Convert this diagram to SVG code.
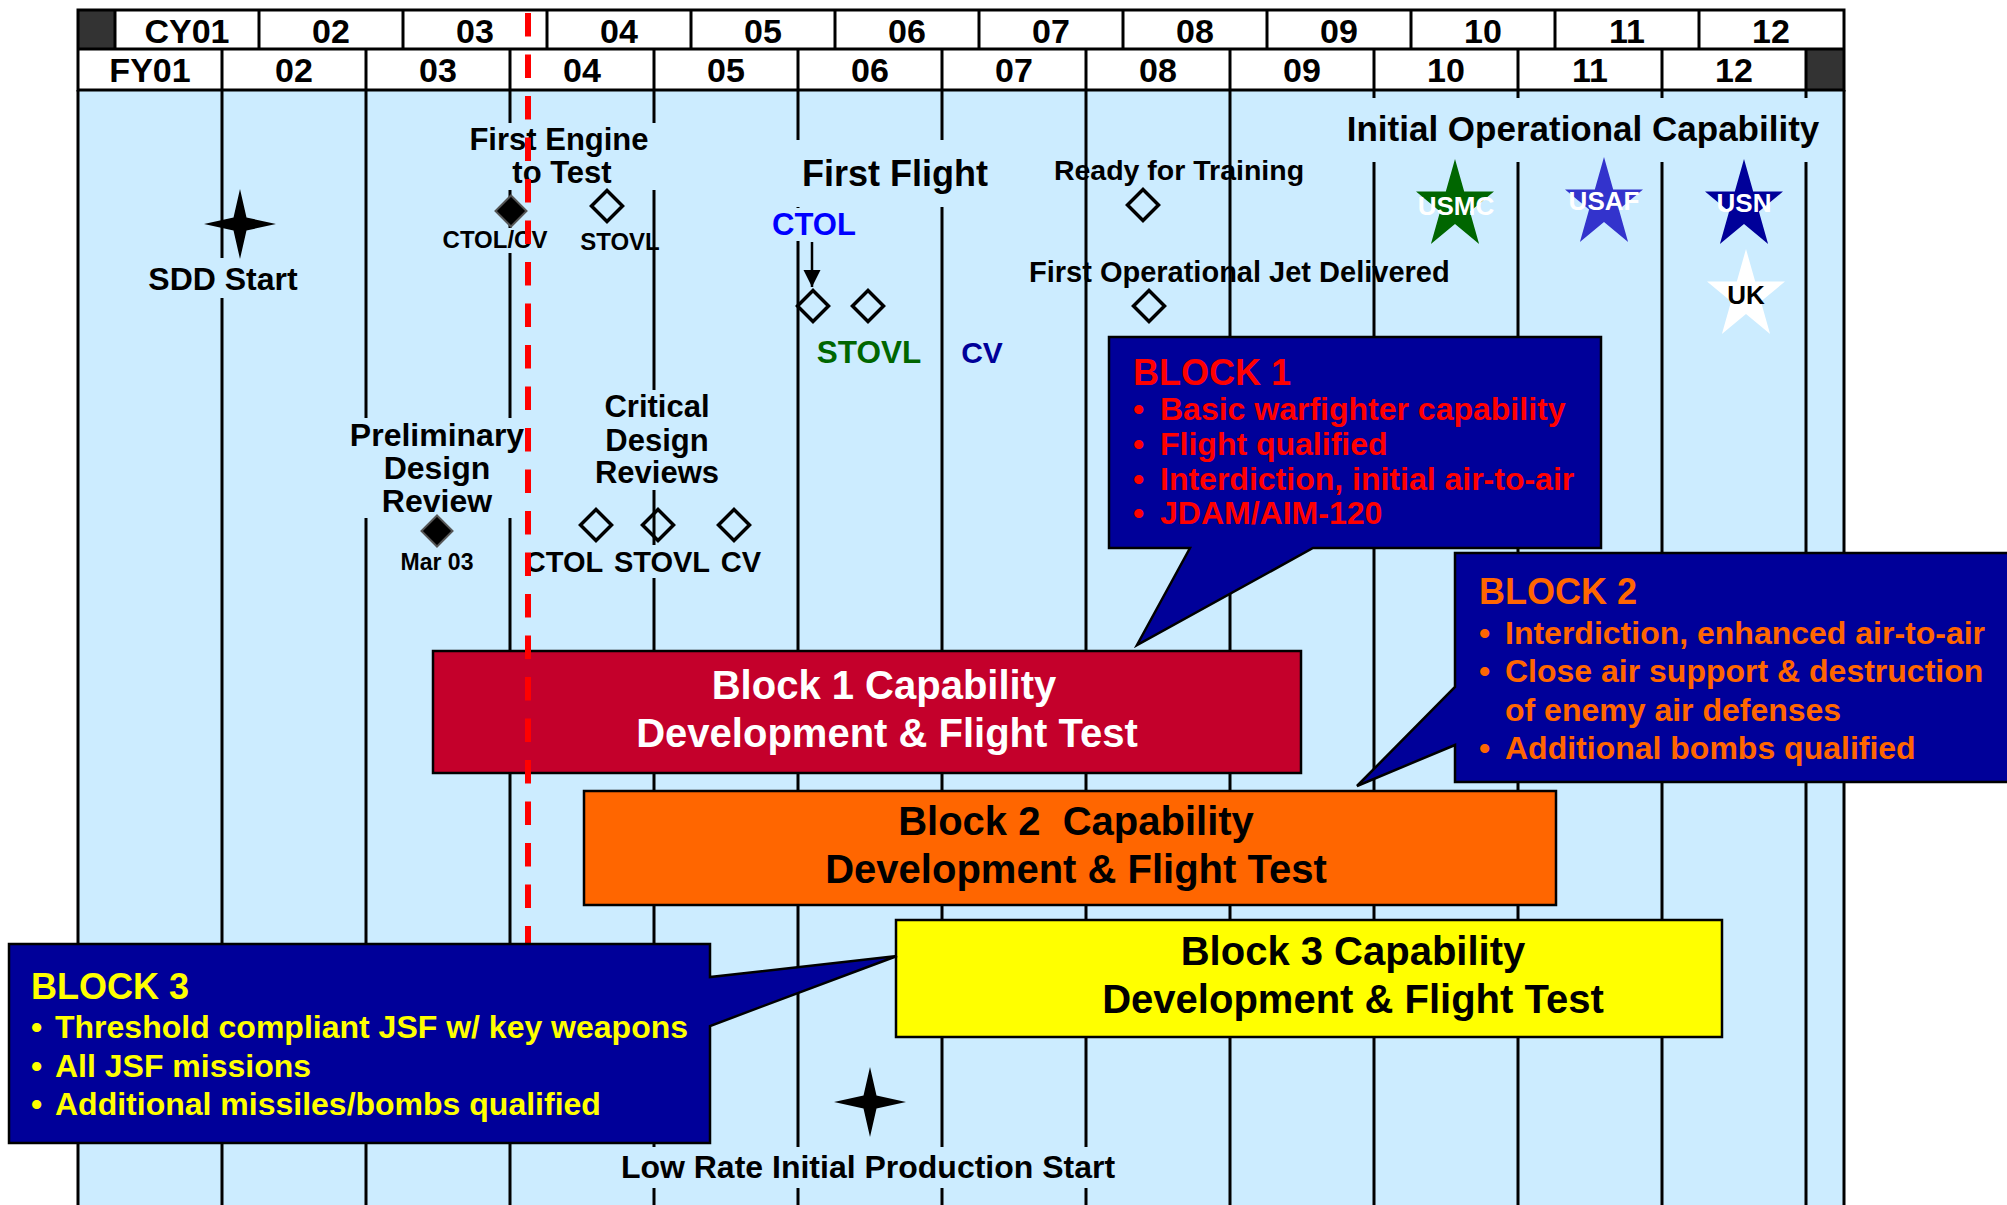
<svg xmlns="http://www.w3.org/2000/svg" width="2007" height="1205" viewBox="0 0 2007 1205">
<style>
.t{font-family:"Liberation Sans",Arial,sans-serif;font-weight:bold}
.m{text-anchor:middle}
.grid{stroke:#000;stroke-width:3}
.tb{fill:#CCECFF}
.od{fill:none;stroke:#000;stroke-width:3.5}
.fd{fill:#000;stroke:#555;stroke-width:2}
.bar{stroke:#000;stroke-width:2.5}
.call{fill:#000099;stroke:#000;stroke-width:2.5}
</style>
<defs>
<path id="dia" d="M0,-15.5 L15.5,0 L0,15.5 L-15.5,0 Z"/>
<path id="star4" d="M0,-35 L6.5,-6.5 L36,0 L6.5,6.5 L0,35 L-6.5,6.5 L-36,0 L-6.5,-6.5 Z"/>
<path id="star5" d="M0,-47 L9.2,-14.5 L39,-14.5 L14.9,5.5 L24.1,38 L0,18 L-24.1,38 L-14.9,5.5 L-39,-14.5 L-9.2,-14.5 Z"/>
<marker id="ah" viewBox="0 0 10 10" refX="10" refY="5" markerWidth="7" markerHeight="7" markerUnits="strokeWidth" orient="auto">
<path d="M0,0 L10,5 L0,10 Z" fill="#000"/>
</marker>
</defs>

<rect x="0" y="0" width="2007" height="1205" fill="#fff"/>
<rect x="78" y="90" width="1766" height="1115" fill="#CCECFF"/>

<g id="grid" class="grid">
<line x1="222" y1="90" x2="222" y2="1205"/>
<line x1="366" y1="90" x2="366" y2="1205"/>
<line x1="510" y1="90" x2="510" y2="1205"/>
<line x1="654" y1="90" x2="654" y2="1205"/>
<line x1="798" y1="90" x2="798" y2="1205"/>
<line x1="942" y1="90" x2="942" y2="1205"/>
<line x1="1086" y1="90" x2="1086" y2="1205"/>
<line x1="1230" y1="90" x2="1230" y2="1205"/>
<line x1="1374" y1="90" x2="1374" y2="1205"/>
<line x1="1518" y1="90" x2="1518" y2="1205"/>
<line x1="1662" y1="90" x2="1662" y2="1205"/>
<line x1="1806" y1="90" x2="1806" y2="1205"/>
<line x1="78" y1="90" x2="78" y2="1205"/>
<line x1="1844" y1="90" x2="1844" y2="1205"/>
</g>

<g id="sdd-start">
<rect class="tb" x="145" y="258" width="157" height="40"/>
<use href="#star4" x="240" y="224" fill="#000"/>
<text class="t m" x="223" y="290" font-size="32">SDD Start</text>
</g>

<g id="first-engine">
<rect class="tb" x="455" y="123" width="210" height="67"/>
<rect class="tb" x="440" y="228" width="110" height="25"/>
<text class="t m" x="559" y="150" font-size="31">First Engine</text>
<text class="t m" x="562" y="183" font-size="31">to Test</text>
<use href="#dia" x="511" y="211" class="fd"/>
<use href="#dia" x="607" y="206" class="od"/>
<text class="t m" x="495" y="248" font-size="24">CTOL/CV</text>
<text class="t m" x="620" y="250" font-size="24">STOVL</text>
</g>

<g id="pdr">
<rect class="tb" x="345" y="418" width="183" height="100"/>
<text class="t m" x="437" y="446" font-size="32">Preliminary</text>
<text class="t m" x="437" y="479" font-size="32">Design</text>
<text class="t m" x="437" y="512" font-size="32">Review</text>
<use href="#dia" x="437" y="531" class="fd"/>
<text class="t m" x="437" y="570" font-size="23">Mar 03</text>
</g>

<g id="cdr">
<rect class="tb" x="598" y="390" width="118" height="100"/>
<rect class="tb" x="522" y="545" width="245" height="33"/>
<text class="t m" x="657" y="417" font-size="31">Critical</text>
<text class="t m" x="657" y="451" font-size="31">Design</text>
<text class="t m" x="657" y="483" font-size="31">Reviews</text>
<use href="#dia" x="596" y="525" class="od"/>
<use href="#dia" x="658" y="525" class="od"/>
<use href="#dia" x="734" y="525" class="od"/>
<text class="t m" x="564" y="572" font-size="29">CTOL</text>
<text class="t m" x="662" y="572" font-size="29">STOVL</text>
<text class="t m" x="741" y="572" font-size="29">CV</text>
</g>

<g id="first-flight">
<rect class="tb" x="790" y="140" width="210" height="67"/>
<rect class="tb" x="768" y="208" width="94" height="33"/>
<text class="t m" x="895" y="186" font-size="36">First Flight</text>
<text class="t m" x="814" y="235" font-size="31" fill="#0000FF">CTOL</text>
<use href="#dia" x="813" y="306" class="od"/>
<use href="#dia" x="868" y="306" class="od"/>
<text class="t m" x="869" y="363" font-size="31.5" fill="#006600">STOVL</text>
<text class="t m" x="982" y="363" font-size="30" fill="#000099">CV</text>
</g>

<g id="ready-for-training">
<text class="t m" x="1179" y="180" font-size="28.5">Ready for Training</text>
<use href="#dia" x="1143" y="205" class="od"/>
</g>

<g id="first-jet">
<text class="t" x="1029" y="282" font-size="29">First Operational Jet Delivered</text>
<use href="#dia" x="1149" y="306" class="od"/>
</g>

<g id="ioc">
<rect class="tb" x="1340" y="98" width="486" height="64"/>
<text class="t m" x="1583" y="141" font-size="35">Initial Operational Capability</text>
<use href="#star5" x="1455" y="206" fill="#006600"/>
<text class="t m" x="1456" y="215" font-size="26" fill="#fff">USMC</text>
<use href="#star5" x="1604" y="204" fill="#3333CC"/>
<text class="t m" x="1604" y="210" font-size="26" fill="#fff">USAF</text>
<use href="#star5" x="1744" y="206" fill="#000099"/>
<text class="t m" x="1744" y="212" font-size="26" fill="#fff">USN</text>
<use href="#star5" x="1746" y="296" fill="#fff"/>
<text class="t m" x="1746" y="304" font-size="26">UK</text>
</g>

<g id="lrip">
<rect class="tb" x="612" y="1147" width="512" height="41"/>
<use href="#star4" x="870" y="1102" fill="#000"/>
<text class="t m" x="868" y="1178" font-size="32">Low Rate Initial Production Start</text>
</g>

<g id="connectors">
<line x1="812" y1="242" x2="812" y2="287" stroke="#000" stroke-width="2.5" marker-end="url(#ah)"/>
</g>

<g id="block1-bar">
<rect class="bar" x="433" y="651" width="868" height="122" fill="#C4002B"/>
<text class="t m" x="884" y="699" font-size="40" fill="#fff">Block 1 Capability</text>
<text class="t m" x="887" y="747" font-size="40" fill="#fff">Development &amp; Flight Test</text>
</g>

<g id="block2-bar">
<rect class="bar" x="584" y="791" width="972" height="114" fill="#FF6600"/>
<text class="t m" x="1076" y="835" font-size="40" xml:space="preserve">Block 2  Capability</text>
<text class="t m" x="1076" y="883" font-size="40">Development &amp; Flight Test</text>
</g>

<g id="block3-bar">
<rect class="bar" x="896" y="920" width="826" height="117" fill="#FFFF00"/>
<text class="t m" x="1353" y="965" font-size="40">Block 3 Capability</text>
<text class="t m" x="1353" y="1013" font-size="40">Development &amp; Flight Test</text>
</g>

<g id="header">
<rect x="78" y="10" width="1766" height="80" fill="#fff"/>
<rect x="78" y="10" width="37" height="39" fill="#333"/>
<rect x="1806" y="49" width="38" height="41" fill="#333"/>
<g class="grid">
<rect x="78" y="10" width="1766" height="80" fill="none"/>
<line x1="78" y1="49" x2="1844" y2="49"/>
<line x1="115" y1="10" x2="115" y2="49"/>
<line x1="259" y1="10" x2="259" y2="49"/>
<line x1="403" y1="10" x2="403" y2="49"/>
<line x1="547" y1="10" x2="547" y2="49"/>
<line x1="691" y1="10" x2="691" y2="49"/>
<line x1="835" y1="10" x2="835" y2="49"/>
<line x1="979" y1="10" x2="979" y2="49"/>
<line x1="1123" y1="10" x2="1123" y2="49"/>
<line x1="1267" y1="10" x2="1267" y2="49"/>
<line x1="1411" y1="10" x2="1411" y2="49"/>
<line x1="1555" y1="10" x2="1555" y2="49"/>
<line x1="1699" y1="10" x2="1699" y2="49"/>
<line x1="222" y1="49" x2="222" y2="90"/>
<line x1="366" y1="49" x2="366" y2="90"/>
<line x1="510" y1="49" x2="510" y2="90"/>
<line x1="654" y1="49" x2="654" y2="90"/>
<line x1="798" y1="49" x2="798" y2="90"/>
<line x1="942" y1="49" x2="942" y2="90"/>
<line x1="1086" y1="49" x2="1086" y2="90"/>
<line x1="1230" y1="49" x2="1230" y2="90"/>
<line x1="1374" y1="49" x2="1374" y2="90"/>
<line x1="1518" y1="49" x2="1518" y2="90"/>
<line x1="1662" y1="49" x2="1662" y2="90"/>
<line x1="1806" y1="49" x2="1806" y2="90"/>
</g>
<g class="t m" font-size="34">
<text x="187" y="43">CY01</text>
<text x="331" y="43">02</text>
<text x="475" y="43">03</text>
<text x="619" y="43">04</text>
<text x="763" y="43">05</text>
<text x="907" y="43">06</text>
<text x="1051" y="43">07</text>
<text x="1195" y="43">08</text>
<text x="1339" y="43">09</text>
<text x="1483" y="43">10</text>
<text x="1627" y="43">11</text>
<text x="1771" y="43">12</text>
<text x="150" y="82">FY01</text>
<text x="294" y="82">02</text>
<text x="438" y="82">03</text>
<text x="582" y="82">04</text>
<text x="726" y="82">05</text>
<text x="870" y="82">06</text>
<text x="1014" y="82">07</text>
<text x="1158" y="82">08</text>
<text x="1302" y="82">09</text>
<text x="1446" y="82">10</text>
<text x="1590" y="82">11</text>
<text x="1734" y="82">12</text>
</g>
</g>

<g id="today-line">
<line x1="528" y1="13" x2="528" y2="944" stroke="#FF0000" stroke-width="6" stroke-dasharray="23.5 18"/>
</g>

<g id="block1-callout">
<path class="call" d="M1109,337 H1601 V548 H1313 L1137,645 L1190,548 H1109 Z"/>
<g class="t" fill="#FF0000">
<text x="1133" y="385" font-size="36">BLOCK 1</text>
<g font-size="32">
<text x="1133" y="420">•</text><text x="1160" y="420">Basic warfighter capability</text>
<text x="1133" y="455">•</text><text x="1160" y="455">Flight qualified</text>
<text x="1133" y="490">•</text><text x="1160" y="490">Interdiction, initial air-to-air</text>
<text x="1133" y="524">•</text><text x="1160" y="524">JDAM/AIM-120</text>
</g>
</g>
</g>

<g id="block2-callout">
<path class="call" d="M1455,553 H2012 V782 H1455 V745 L1357,786 L1455,687 Z"/>
<g class="t" fill="#FF6600">
<text x="1479" y="604" font-size="36">BLOCK 2</text>
<g font-size="32">
<text x="1479" y="644">•</text><text x="1505" y="644">Interdiction, enhanced air-to-air</text>
<text x="1479" y="682">•</text><text x="1505" y="682">Close air support &amp; destruction</text>
<text x="1505" y="721">of enemy air defenses</text>
<text x="1479" y="759">•</text><text x="1505" y="759">Additional bombs qualified</text>
</g>
</g>
</g>

<g id="block3-callout">
<path class="call" d="M9,944 H710 V977 L897,956 L710,1026 V1143 H9 Z"/>
<g class="t" fill="#FFFF00">
<text x="31" y="999" font-size="36">BLOCK 3</text>
<g font-size="32">
<text x="31" y="1038">•</text><text x="55" y="1038">Threshold compliant JSF w/ key weapons</text>
<text x="31" y="1077">•</text><text x="55" y="1077">All JSF missions</text>
<text x="31" y="1115">•</text><text x="55" y="1115">Additional missiles/bombs qualified</text>
</g>
</g>
</g>
</svg>
